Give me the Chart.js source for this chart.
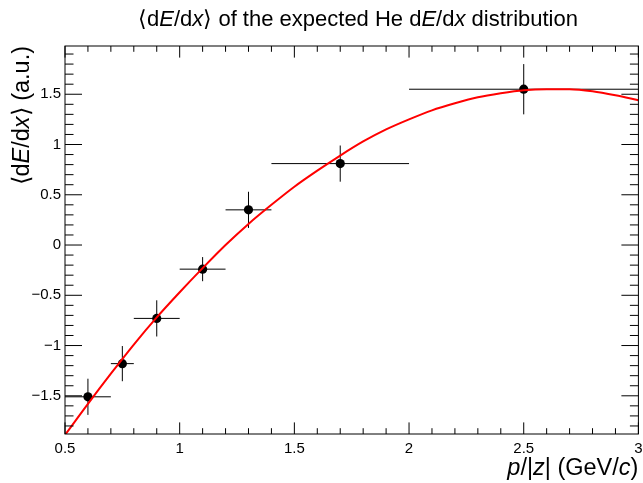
<!DOCTYPE html>
<html>
<head>
<meta charset="utf-8">
<script src="https://cdn.jsdelivr.net/npm/chart.js@4"></script>
<style>
  html, body { margin: 0; padding: 0; background: #fff; }
  #wrap { width: 643px; height: 483px; }
</style>
</head>
<body>
<div id="wrap"><canvas id="myChart" width="643" height="483"></canvas></div>
<script>
// measured <dE/dx> points, with bin edges and errors
var pointX = [0.6, 0.75, 0.9, 1.1, 1.3, 1.7, 2.5];
var pointLow = [0.5, 0.7, 0.8, 1.0, 1.2, 1.4, 2.0];
var pointHigh = [0.7, 0.8, 1.0, 1.2, 1.4, 2.0, 3.0];
var pointY = [-1.51, -1.18, -0.73, -0.24, 0.35, 0.81, 1.55];
var pointErr = [0.18, 0.175, 0.18, 0.12, 0.18, 0.18, 0.25];

// fitted curve
var fitX = [0.5, 0.6, 0.7, 0.8, 0.9, 1.0, 1.1, 1.2, 1.3, 1.4, 1.5, 1.6, 1.7,
            1.8, 1.9, 2.0, 2.1, 2.2, 2.3, 2.4, 2.5, 2.6, 2.7, 2.8, 2.9, 3.0];
var fitY = [-1.89, -1.58, -1.28, -0.99, -0.72, -0.47, -0.23, 0.00, 0.21, 0.40, 0.58, 0.74, 0.89,
            1.03, 1.15, 1.25, 1.34, 1.41, 1.47, 1.51, 1.54, 1.55, 1.55, 1.53, 1.49, 1.44];

// axis labels
var xTicks = [0.5, 1, 1.5, 2, 2.5, 3];
var yTicks = [-1.5, -1, -0.5, 0, 0.5, 1, 1.5];

var FONT = '"Liberation Sans", Arial, Helvetica, sans-serif';

function fmt(v) {
  return String(v).replace('-', '\u2212');
}

// draw text made of plain / italic pieces
function drawRich(ctx, parts, x, y, align, size) {
  var total = 0;
  parts.forEach(function (p) {
    ctx.font = (p[1] ? 'italic ' : '') + size + 'px ' + FONT;
    total += ctx.measureText(p[0]).width;
  });
  var cx = align === 'center' ? x - total / 2 : (align === 'right' ? x - total : x);
  ctx.textAlign = 'left';
  ctx.textBaseline = 'alphabetic';
  parts.forEach(function (p) {
    ctx.font = (p[1] ? 'italic ' : '') + size + 'px ' + FONT;
    ctx.fillText(p[0], cx, y);
    cx += ctx.measureText(p[0]).width;
  });
}

var errorBars = {
  id: 'errorBars',
  beforeDatasetsDraw: function (chart) {
    var ctx = chart.ctx, xs = chart.scales.x, ys = chart.scales.y;
    ctx.save();
    ctx.strokeStyle = '#000';
    ctx.lineWidth = 1;
    for (var i = 0; i < pointX.length; i++) {
      var px = xs.getPixelForValue(pointX[i]);
      var py = ys.getPixelForValue(pointY[i]);
      ctx.beginPath();
      ctx.moveTo(xs.getPixelForValue(pointLow[i]), py);
      ctx.lineTo(xs.getPixelForValue(pointHigh[i]), py);
      ctx.moveTo(px, ys.getPixelForValue(pointY[i] - pointErr[i]));
      ctx.lineTo(px, ys.getPixelForValue(pointY[i] + pointErr[i]));
      ctx.stroke();
    }
    ctx.restore();
  }
};

var frame = {
  id: 'frame',
  afterDraw: function (chart) {
    var ctx = chart.ctx, a = chart.chartArea;
    var xs = chart.scales.x, ys = chart.scales.y;
    ctx.save();
    ctx.strokeStyle = '#000';
    ctx.lineWidth = 1;
    ctx.strokeRect(a.left, a.top, a.right - a.left, a.bottom - a.top);

    // ticks on all four sides, pointing inwards
    ctx.beginPath();
    for (var i = 5; i <= 30; i++) {
      var px = xs.getPixelForValue(i / 10);
      var len = (i % 5 === 0) ? 11.6 : 5.8;
      ctx.moveTo(px, a.bottom); ctx.lineTo(px, a.bottom - len);
      ctx.moveTo(px, a.top); ctx.lineTo(px, a.top + len);
    }
    for (var j = -18; j <= 19; j++) {
      var py = ys.getPixelForValue(j / 10);
      var l2 = (j % 5 === 0) ? 17 : 8.5;
      ctx.moveTo(a.left, py); ctx.lineTo(a.left + l2, py);
      ctx.moveTo(a.right, py); ctx.lineTo(a.right - l2, py);
    }
    ctx.stroke();

    ctx.fillStyle = '#000';
    // title
    drawRich(ctx, [['\u27e8d', 0], ['E', 1], ['/d', 0], ['x', 1], ['\u27e9 of the expected He d', 0],
                   ['E', 1], ['/d', 0], ['x', 1], [' distribution', 0]], 358, 26, 'center', 22);
    // x axis title
    drawRich(ctx, [['p', 1], ['/|', 0], ['z', 1], ['| (GeV/', 0], ['c', 1], [')', 0]],
             a.right, 475, 'right', 23.5);
    // y axis title
    ctx.save();
    ctx.translate(29, a.top);
    ctx.rotate(-Math.PI / 2);
    drawRich(ctx, [['\u27e8d', 0], ['E', 1], ['/d', 0], ['x', 1], ['\u27e9 (a.u.)', 0]],
             0, 0, 'right', 23.5);
    ctx.restore();
    ctx.restore();
  }
};

var ctx = document.getElementById('myChart').getContext('2d');
var chart = new Chart(ctx, {
  type: 'scatter',
  data: {
    datasets: [{
      // fit function, drawn on top of the points
      type: 'line',
      data: fitX.map(function (x, i) { return { x: x, y: fitY[i] }; }),
      borderColor: '#ff0000',
      borderWidth: 2,
      pointRadius: 0,
      fill: false,
      cubicInterpolationMode: 'monotone',
      clip: 0
    }, {
      data: pointX.map(function (x, i) { return { x: x, y: pointY[i] }; }),
      backgroundColor: '#000',
      borderColor: '#000',
      pointRadius: 4.6,
      pointBorderWidth: 0,
      showLine: false
    }]
  },
  options: {
    responsive: false,
    animation: false,
    layout: { padding: { top: 46, right: 3, left: 0, bottom: 0 } },
    plugins: {
      legend: { display: false },
      tooltip: { enabled: false }
    },
    scales: {
      x: {
        type: 'linear',
        min: 0.5,
        max: 3,
        grid: { display: false, drawTicks: false },
        border: { display: false },
        afterBuildTicks: function (scale) {
          scale.ticks = xTicks.map(function (v) { return { value: v }; });
        },
        afterFit: function (scale) {
          scale.height = 49;
          scale.paddingLeft = 0;
          scale.paddingRight = 0;
        },
        ticks: {
          color: '#000',
          padding: 6,
          maxRotation: 0,
          font: { family: FONT, size: 15 },
          callback: function (v) { return fmt(v); }
        }
      },
      y: {
        type: 'linear',
        min: -1.88,
        max: 1.98,
        grid: { display: false, drawTicks: false },
        border: { display: false },
        afterBuildTicks: function (scale) {
          scale.ticks = yTicks.map(function (v) { return { value: v }; });
        },
        afterFit: function (scale) {
          scale.width = 65;
          scale.paddingTop = 0;
          scale.paddingBottom = 0;
        },
        ticks: {
          color: '#000',
          padding: 4,
          font: { family: FONT, size: 15 },
          callback: function (v) { return fmt(v); }
        }
      }
    }
  },
  plugins: [errorBars, frame]
});
</script>
</body>
</html>
